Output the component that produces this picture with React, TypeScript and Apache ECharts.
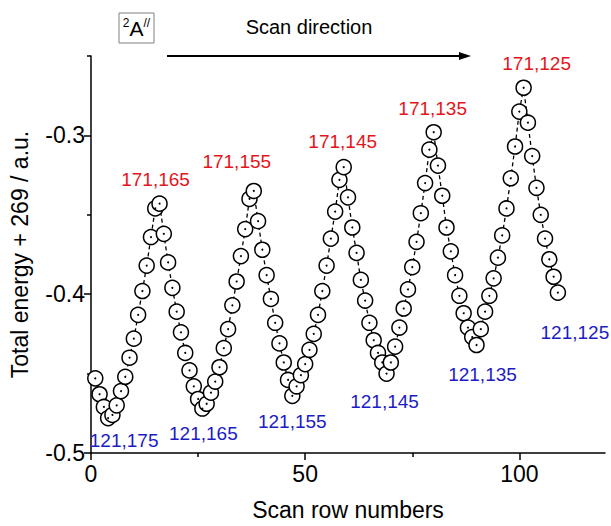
import React, { useEffect, useRef } from "react";
import * as echarts from "echarts";

// Total energy + 269 (a.u.) for each scan row
const energy = [
  -0.453, -0.463, -0.471, -0.478, -0.476, -0.470, -0.461, -0.452, -0.440, -0.428,
  -0.413, -0.398, -0.382, -0.364, -0.346, -0.343, -0.362, -0.380, -0.396, -0.411,
  -0.424, -0.437, -0.448, -0.458, -0.466, -0.472, -0.469, -0.462, -0.455, -0.446,
  -0.434, -0.422, -0.407, -0.392, -0.376, -0.359, -0.340, -0.335, -0.354, -0.372,
  -0.388, -0.403, -0.418, -0.431, -0.443, -0.454, -0.464, -0.458, -0.451, -0.444,
  -0.435, -0.425, -0.413, -0.398, -0.382, -0.365, -0.348, -0.328, -0.320, -0.339,
  -0.358, -0.374, -0.391, -0.404, -0.418, -0.429, -0.437, -0.443, -0.450, -0.443,
  -0.433, -0.421, -0.409, -0.397, -0.383, -0.367, -0.349, -0.330, -0.309, -0.298,
  -0.319, -0.338, -0.358, -0.373, -0.388, -0.401, -0.412, -0.421, -0.427, -0.432,
  -0.422, -0.411, -0.401, -0.390, -0.377, -0.363, -0.346, -0.327, -0.307, -0.285,
  -0.270, -0.292, -0.313, -0.333, -0.350, -0.365, -0.378, -0.389, -0.399,
];
const rows = energy.map((_, i) => i + 1);

const peakRows = [16, 38, 59, 80, 101];
const peakLabels = ["171,165", "171,155", "171,145", "171,135", "171,125"];
const minRows = [4, 26, 47, 69, 90, 109];
const minLabels = ["121,175", "121,165", "121,155", "121,145", "121,135", "121,125"];

const xMajorTicks = [0, 50, 100];
const xMinorTicks = [25, 75];
const yMajorTicks = [-0.5, -0.4, -0.3];
const yMinorTicks = [-0.45, -0.35, -0.25];

const FONT = "'Liberation Sans', Arial, sans-serif";
const RED = "#e3151b";
const BLUE = "#1c1cc4";

export default function App() {
  const ref = useRef<HTMLDivElement>(null);

  useEffect(() => {
    document.body.style.margin = "0";
    const chart = echarts.init(ref.current!, null, { renderer: "svg" });

    const points = rows.map((r, i) => [r, energy[i]]);
    const peakOffsets = [[-4, -24], [-17, -29], [-1, -26], [-1, -24], [13, -24]];
    const minOffsets = [[16, 22], [1, 25], [0, 26], [-2, 28], [6, 29], [17, 40]];

    const axisLine = { show: true, lineStyle: { color: "#000", width: 1.5 } };

    chart.setOption({
      animation: false,
      backgroundColor: "#fff",
      textStyle: { fontFamily: FONT },
      grid: { left: 91, right: 6, top: 56, bottom: 68 },
      xAxis: [
        {
          type: "value",
          min: 0,
          max: 120,
          position: "bottom",
          name: "Scan row numbers",
          nameLocation: "middle",
          nameGap: 45,
          nameTextStyle: { fontSize: 23, color: "#000", fontFamily: FONT },
          axisLine,
          splitLine: { show: false },
          axisTick: { show: true, customValues: xMajorTicks, length: 7, lineStyle: { color: "#000", width: 1.5 } },
          axisLabel: {
            show: true,
            customValues: xMajorTicks,
            fontSize: 23,
            color: "#000",
            margin: 9,
            fontFamily: FONT,
          },
        },
        {
          type: "value",
          min: 0,
          max: 120,
          position: "bottom",
          axisLine: { show: false },
          splitLine: { show: false },
          axisTick: { show: true, customValues: xMinorTicks, length: 4, lineStyle: { color: "#000", width: 1.5 } },
          axisLabel: { show: false },
        },
      ],
      yAxis: [
        {
          type: "value",
          min: -0.5,
          max: -0.25,
          name: "Total energy + 269 / a.u.",
          nameLocation: "middle",
          nameGap: 60,
          nameTextStyle: { fontSize: 23, color: "#000", fontFamily: FONT },
          axisLine,
          splitLine: { show: false },
          axisTick: { show: true, customValues: yMajorTicks, length: 7, lineStyle: { color: "#000", width: 1.5 } },
          axisLabel: {
            show: true,
            customValues: yMajorTicks,
            fontSize: 23,
            color: "#000",
            margin: 6,
            fontFamily: FONT,
            formatter: (v: number) => v.toFixed(1),
          },
        },
        {
          type: "value",
          min: -0.5,
          max: -0.25,
          position: "left",
          axisLine: { show: false },
          splitLine: { show: false },
          axisTick: { show: true, customValues: yMinorTicks, length: 4, lineStyle: { color: "#000", width: 1.5 } },
          axisLabel: { show: false },
        },
      ],
      series: [
        {
          type: "line",
          data: points,
          symbol: "circle",
          symbolSize: 15,
          showAllSymbol: true,
          lineStyle: { color: "#000", width: 1.3, type: [4, 3] },
          itemStyle: { color: "#fff", borderColor: "#000", borderWidth: 1.5, opacity: 1 },
          z: 2,
        },
        {
          type: "scatter",
          data: points,
          symbol: "circle",
          symbolSize: 2,
          itemStyle: { color: "#000", opacity: 1 },
          z: 3,
          silent: true,
        },
        {
          type: "scatter",
          data: peakRows.map((r, i) => ({
            value: [r, energy[r - 1]],
            label: { formatter: peakLabels[i], offset: peakOffsets[i] },
          })),
          symbolSize: 1,
          itemStyle: { color: "rgba(0,0,0,0)", opacity: 1 },
          label: { show: true, position: "inside", color: RED, opacity: 1, fontSize: 19, fontFamily: FONT },
          z: 4,
        },
        {
          type: "scatter",
          data: minRows.map((r, i) => ({
            value: [r, energy[r - 1]],
            label: { formatter: minLabels[i], offset: minOffsets[i] },
          })),
          symbolSize: 1,
          itemStyle: { color: "rgba(0,0,0,0)", opacity: 1 },
          label: { show: true, position: "inside", color: BLUE, opacity: 1, fontSize: 19, fontFamily: FONT },
          z: 4,
        },
      ],
      graphic: [
        {
          type: "rect",
          shape: { x: 119, y: 13, width: 35, height: 30 },
          style: { fill: "#fff", stroke: "#808080", lineWidth: 1 },
        },
        {
          type: "text",
          x: 136.5,
          y: 28,
          style: {
            text: "{s|2}{b|A}{s|//}",
            align: "center",
            verticalAlign: "middle",
            fill: "#000",
            rich: {
              s: { fontSize: 12, fontFamily: FONT, verticalAlign: "top", lineHeight: 22 },
              b: { fontSize: 21, fontFamily: FONT, lineHeight: 22 },
            },
          },
        },
        {
          type: "text",
          x: 309,
          y: 27,
          style: {
            text: "Scan direction",
            align: "center",
            verticalAlign: "middle",
            fontSize: 20,
            fontFamily: FONT,
            fill: "#000",
          },
        },
        {
          type: "line",
          shape: { x1: 167, y1: 56, x2: 462, y2: 56 },
          style: { stroke: "#000", lineWidth: 2 },
        },
        {
          type: "polygon",
          shape: { points: [[471, 56], [459, 52], [459, 60]] },
          style: { fill: "#000" },
        },
      ],
    });

    return () => chart.dispose();
  }, []);

  return <div ref={ref} style={{ width: 611, height: 526 }} />;
}
